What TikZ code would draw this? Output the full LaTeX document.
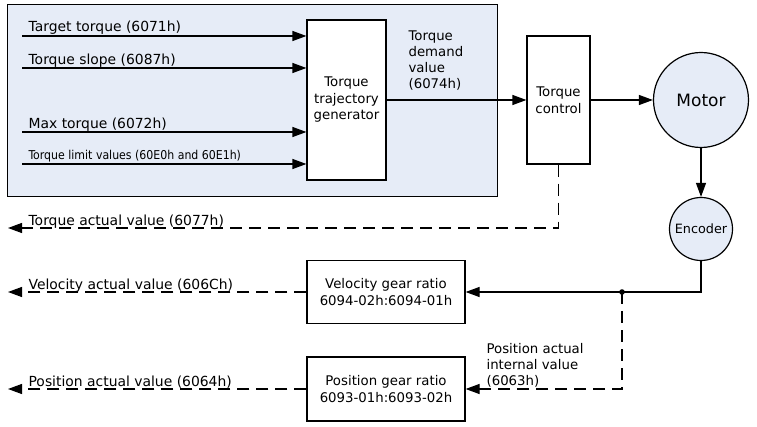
\documentclass[tikz,border=0pt]{standalone}
\usepackage{fontspec}
\setmainfont{DejaVu Sans}
\newfontfamily\condfont{DejaVu Sans Condensed}
\usetikzlibrary{arrows.meta,calc}
\definecolor{panel}{RGB}{230,236,247}
\begin{document}
\begin{tikzpicture}[x=1pt,y=-1pt,
  line width=1.2pt,
  arr/.style={-{Triangle[length=14pt,width=10pt]}},
  dsh/.style={dash pattern=on 12pt off 7pt},
  box/.style={draw, fill=white, inner sep=0pt, align=center, font=\fontsize{13.3}{16.5}\selectfont},
  lbl/.style={anchor=base west, inner sep=0pt, font=\fontsize{13.9}{16}\selectfont},
  mlbl/.style={anchor=north west, inner sep=0pt, align=left, font=\fontsize{13.3}{16}\selectfont},
  circ/.style={draw, circle, fill=panel, inner sep=0pt}
]
\useasboundingbox (0,0) rectangle (757,427);
\node[draw, fill=panel, minimum width=490pt, minimum height=192pt, anchor=north west, inner sep=0pt] (panel) at (7,4) {};
\node[box, minimum width=79pt, minimum height=160pt] (ttg) at (346.5,100) {Torque\\trajectory\\generator};
\node[box, minimum width=63pt, minimum height=128pt] (tc) at (558.5,100) {Torque\\control};
\node[circ, minimum size=95pt, font=\fontsize{17}{20}\selectfont] (motor) at (701,100) {Motor};
\node[circ, minimum size=63pt, font=\fontsize{12.8}{15}\selectfont] (enc) at (701,229) {Encoder};
\node[box, minimum width=158pt, minimum height=63pt] (vgr) at (386,292) {Velocity gear ratio\\6094-02h:6094-01h};
\node[box, minimum width=158pt, minimum height=64pt] (pgr) at (386,389) {Position gear ratio\\6093-01h:6093-02h};

% inputs
\coordinate (in1) at (22,36);
\coordinate (in2) at (22,68);
\coordinate (in3) at (22,132);
\coordinate (in4) at (22,164);
\draw[arr] (in1) -- (in1 -| ttg.west);
\draw[arr] (in2) -- (in2 -| ttg.west);
\draw[arr] (in3) -- (in3 -| ttg.west);
\draw[arr] (in4) -- (in4 -| ttg.west);
\node[lbl] (l1) at (28,32) {Target torque (6071h)};
\node[lbl] (l2) at (28,65) {Torque slope (6087h)};
\node[lbl] (l3) at (28,129) {Max torque (6072h)};
\node[lbl, font=\condfont\fontsize{12.2}{14}\selectfont] (l4) at (28,160) {Torque limit values (60E0h and 60E1h)};

% forward path
\draw[arr] (ttg.east) -- (tc.west);
\node[mlbl] (tdv) at (408,30.3) {Torque\\demand\\value\\(6074h)};
\draw[arr] (tc.east) -- (motor.west);
\draw[arr] (motor.south) -- (enc.north);
\coordinate (j) at (622,292);
\draw[arr] (enc.south) |- (vgr.east);
\fill (j) circle (2.8pt);
\draw[dsh, arr] (j) |- (pgr.east);
\node[mlbl] (pai) at (486,343) {Position actual\\internal value\\(6063h)};

% outputs
\coordinate (ta) at (8,228);
\coordinate (va) at (8,292);
\coordinate (pa) at (8,389);
\draw[dsh, arr] (tc.south) |- (ta);
\draw[dsh, arr] (vgr.west) -- (va);
\draw[dsh, arr] (pgr.west) -- (pa);
\node[lbl] (o1) at (28,226) {Torque actual value (6077h)};
\node[lbl] (o2) at (28,290) {Velocity actual value (606Ch)};
\node[lbl] (o3) at (28,386) {Position actual value (6064h)};
\end{tikzpicture}
\end{document}
